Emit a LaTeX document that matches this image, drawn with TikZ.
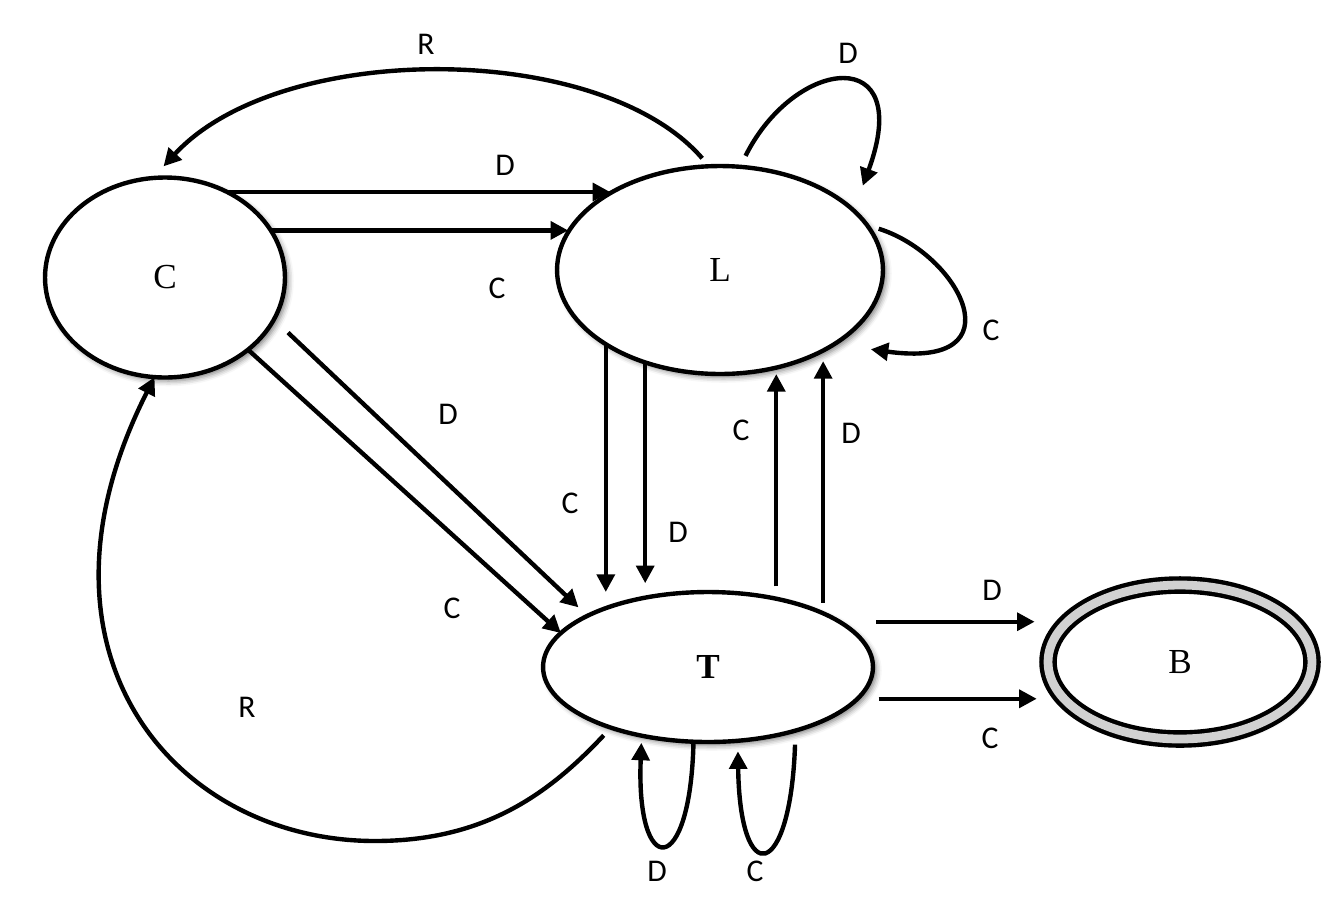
\documentclass[tikz,border=0pt]{standalone}
\usepackage{fontspec}
\setmainfont{Liberation Serif}
\newfontfamily\lblfont{Carlito}
\usetikzlibrary{arrows.meta,shapes.geometric,shadows.blur}

\begin{document}
\begin{tikzpicture}[x=0.02cm, y=-0.02cm, line width=2.5pt, -{Triangle[length=10pt, width=10pt]},
        every node/.append style={inner sep=0pt, outer sep=0pt}]
      \tikzstyle{state} = [ellipse, draw, fill=white, font=\fontsize{20}{24}\selectfont,
        blur shadow={shadow xshift=2pt, shadow yshift=-2pt, shadow blur radius=3pt, shadow opacity=50}]
      \tikzstyle{lbl} = [font=\lblfont\fontsize{18}{21}\selectfont]
      \useasboundingbox (0,0) rectangle (1335,897);
      \node (C) [state, minimum width=4.8cm, minimum height=4cm] at (165,277.5) {C};
      \node (L) [state, minimum width=6.52cm, minimum height=4.16cm] at (720,270) {L};
      \node (T) [state, minimum width=6.6cm, minimum height=3cm] at (708,667) {\textbf{T}};
      \node (B) [state, double=black!18, double distance=5pt, minimum width=5.28cm, minimum height=3.08cm] at (1180,662) {B};
      \coordinate (Rlow) at (375,841);

      \draw (C.54) -- (C.54 -| L.145);
      \draw (C.24) -- (C.24 -| L.166);
      \draw[shorten <=11pt, shorten >=7pt] (C.-21) -- (T.157);
      \draw (C.-41) -- (T.167);
      \draw (L.213) -- (L.213 |- T.north);
      \draw[shorten >=5pt] (L.231) -- (L.231 |- T.north);
      \draw[shorten <=7pt] (T.45) -- (T.45 |- L.south);
      \draw[shorten <=6pt, shorten >=6pt] (T.25) -- (T.25 |- L.-38);
      \draw[shorten <=21pt, shorten >=19pt] (T.19) -- (T.19 -| B.160);
      \draw[shorten <=12pt, shorten >=15pt] (T.-12) -- (T.-12 -| B.197);
      \draw[shorten <=6pt, shorten >=9pt] (L.96) .. controls +(-109,-126) and +(127,-138) .. (C.97);
      \draw[shorten <=6pt] (T.212) .. controls +(-62,66) and +(110,0) .. (Rlow)
        .. controls +(-200,0) and +(-140,276) .. (C.264);
      \draw[shorten <=7pt, shorten >=15pt] (L.79) .. controls +(55,-110) and +(62,-168) .. (L.24);
      \draw[shorten <=7pt, shorten >=21pt] (L.17) .. controls +(93,29) and +(186,26) .. (L.-33);
      \draw[shorten >=4pt] (T.259) .. controls +(-3,138) and +(-6,144) .. (T.226);
      \draw[shorten <=8pt, shorten >=6pt] (T.-36) .. controls +(-5,150) and +(2,150) .. (T.-68);

      \node (rCL) [lbl] at (426,44) {R};
      \node (dLL) [lbl] at (848,53) {D};
      \node (dCL) [lbl] at (505,165) {D};
      \node (cCL) [lbl] at (497,288) {C};
      \node (cLL) [lbl] at (991,330) {C};
      \node (dCT) [lbl] at (448,414) {D};
      \node (cTL) [lbl] at (741,430) {C};
      \node (dTL) [lbl] at (851,433) {D};
      \node (cLT) [lbl] at (570,503) {C};
      \node (dLT) [lbl] at (678,532) {D};
      \node (dTB) [lbl] at (992,590) {D};
      \node (cCT) [lbl] at (452,608) {C};
      \node (rTC) [lbl] at (247,707) {R};
      \node (cTB) [lbl] at (990,738) {C};
      \node (dTT) [lbl] at (657,871) {D};
      \node (cTT) [lbl] at (755,871) {C};
\end{tikzpicture}
\end{document}
